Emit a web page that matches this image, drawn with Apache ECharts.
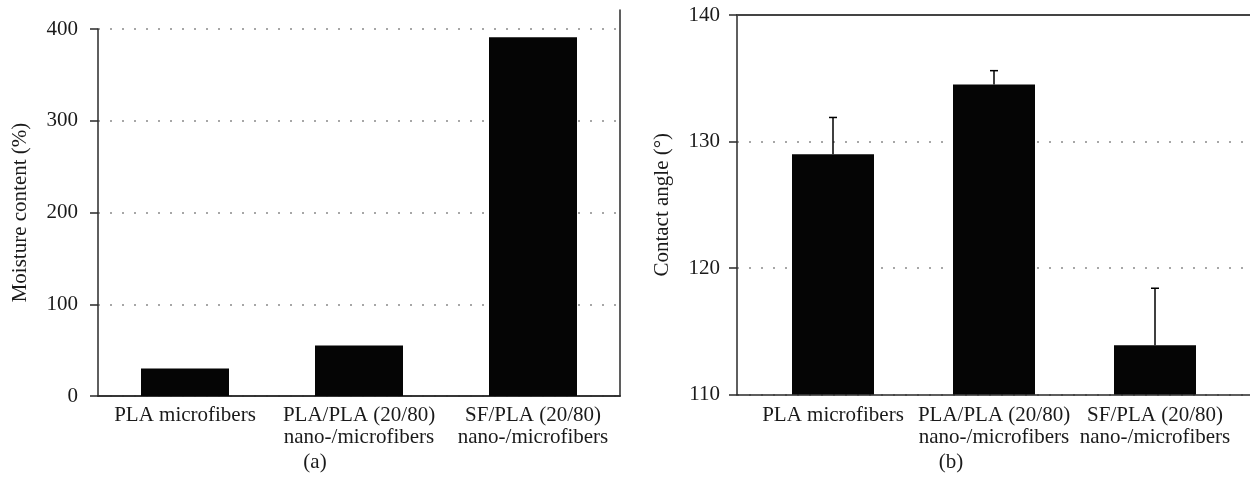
<!DOCTYPE html>
<html>
<head>
<meta charset="utf-8">
<script src="https://cdn.jsdelivr.net/npm/echarts@6/dist/echarts.min.js"></script>
<style>
html,body{margin:0;padding:0;background:#fff;}
#chart{width:1250px;height:493px;}
</style>
</head>
<body>
<div id="chart"></div>
<script>
// ---- data ----
const categories = ['PLA microfibers', 'PLA/PLA (20/80)\nnano-/microfibers', 'SF/PLA (20/80)\nnano-/microfibers'];
const moistureValues = [30, 55, 391];
const contactAngleValues = [129.0, 134.5, 113.9];
const contactAngleErrors = [2.9, 1.1, 4.5];
const moistureAxisTitle = 'Moisture content (%)';
const contactAxisTitle = 'Contact angle (°)';
const panelLabels = ['(a)', '(b)'];

// ---- styles ----
const FONT = '"Liberation Serif", "Times New Roman", serif';
const TXT = '#1a1a1a';
const AX = '#2a2a2a';
const FS = 21;
const dotted = { type: [2, 10], width: 1.5, color: '#8a8a8a' };

const chart = echarts.init(document.getElementById('chart'), null, { renderer: 'canvas' });

const errData = categories.map((c, i) => [i, contactAngleValues[i], contactAngleErrors[i]]);

const option = {
  animation: false,
  backgroundColor: '#fff',
  textStyle: { fontFamily: FONT, color: TXT },
  grid: [
    { left: 98, right: 630, top: 29, bottom: 97 },
    { left: 98, right: 630, top: 10, bottom: 97 },
    { left: 752.5, width: 483, top: 15, bottom: 98.5 },
    { left: 737, right: 0, top: 15, bottom: 98.5 }
  ],
  xAxis: [
    { gridIndex: 0, type: 'category', data: categories,
      axisLine: { show: true, lineStyle: { color: AX, width: 1.5 } },
      axisTick: { show: false },
      axisLabel: { fontFamily: FONT, fontSize: FS, color: TXT, margin: 8, lineHeight: 22, interval: 0 } },
    { gridIndex: 1, type: 'category', data: [''], position: 'top',
      axisLine: { show: true, lineStyle: { color: AX, width: 1.5 } },
      axisTick: { show: false }, axisLabel: { show: false } },
    { gridIndex: 2, type: 'category', data: categories,
      axisLine: { show: false },
      axisTick: { show: false },
      axisLabel: { fontFamily: FONT, fontSize: FS, color: TXT, margin: 9.5, lineHeight: 22, interval: 0 } },
    { gridIndex: 3, type: 'category', data: [''], position: 'bottom',
      axisLine: { show: true, lineStyle: { color: AX, width: 1.5 } },
      axisTick: { show: false }, axisLabel: { show: false } },
    { gridIndex: 3, type: 'category', data: [''], position: 'top',
      axisLine: { show: true, lineStyle: { color: '#444', width: 2 } },
      axisTick: { show: false }, axisLabel: { show: false } }
  ],
  yAxis: [
    { gridIndex: 0, type: 'value', min: 0, max: 400, interval: 100,
      name: moistureAxisTitle, nameLocation: 'middle', nameGap: 67,
      nameTextStyle: { fontFamily: FONT, fontSize: FS, color: TXT },
      axisLine: { show: true, lineStyle: { color: AX, width: 1.5 } },
      axisTick: { show: true, inside: false, length: 8, lineStyle: { color: AX, width: 1.5 } },
      axisLabel: { fontFamily: FONT, fontSize: FS, color: TXT, margin: 20 },
      splitLine: { show: true, lineStyle: dotted } },
    { gridIndex: 1, type: 'value', position: 'right', min: 0, max: 1,
      axisLine: { show: true, lineStyle: { color: AX, width: 1.5 } },
      axisTick: { show: false }, axisLabel: { show: false }, splitLine: { show: false } },
    { gridIndex: 2, type: 'value', min: 110, max: 140, show: false },
    { gridIndex: 3, type: 'value', min: 110, max: 140, interval: 10,
      name: contactAxisTitle, nameLocation: 'middle', nameGap: 64,
      nameTextStyle: { fontFamily: FONT, fontSize: FS, color: TXT },
      axisLine: { show: true, lineStyle: { color: AX, width: 1.5 } },
      axisTick: { show: true, inside: false, length: 8, lineStyle: { color: AX, width: 1.5 } },
      axisLabel: { fontFamily: FONT, fontSize: FS, color: TXT, margin: 17 },
      splitLine: { show: true, lineStyle: dotted } }
  ],
  series: [
    { type: 'bar', xAxisIndex: 0, yAxisIndex: 0, data: moistureValues, barWidth: 88,
      itemStyle: { color: '#050505' }, z: 3 },
    { type: 'bar', xAxisIndex: 2, yAxisIndex: 2, data: contactAngleValues, barWidth: 82,
      itemStyle: { color: '#050505' }, z: 3 },
    { type: 'custom', xAxisIndex: 2, yAxisIndex: 2, data: errData, z: 4,
      renderItem: function (params, api) {
        const x = api.value(0);
        const m = api.value(1);
        const e = api.value(2);
        const p0 = api.coord([x, m]);
        const p1 = api.coord([x, m + e]);
        const st = { stroke: '#000', lineWidth: 1.5 };
        return { type: 'group', children: [
          { type: 'line', shape: { x1: p0[0], y1: p0[1], x2: p1[0], y2: p1[1] }, style: st },
          { type: 'line', shape: { x1: p1[0] - 4, y1: p1[1], x2: p1[0] + 4, y2: p1[1] }, style: st }
        ] };
      } }
  ],
  graphic: [
    { type: 'text', x: 315, y: 462, style: { text: panelLabels[0], font: FS + 'px ' + FONT, fill: TXT, align: 'center', verticalAlign: 'middle' } },
    { type: 'text', x: 951, y: 462, style: { text: panelLabels[1], font: FS + 'px ' + FONT, fill: TXT, align: 'center', verticalAlign: 'middle' } }
  ]
};
chart.setOption(option);
</script>
</body>
</html>
